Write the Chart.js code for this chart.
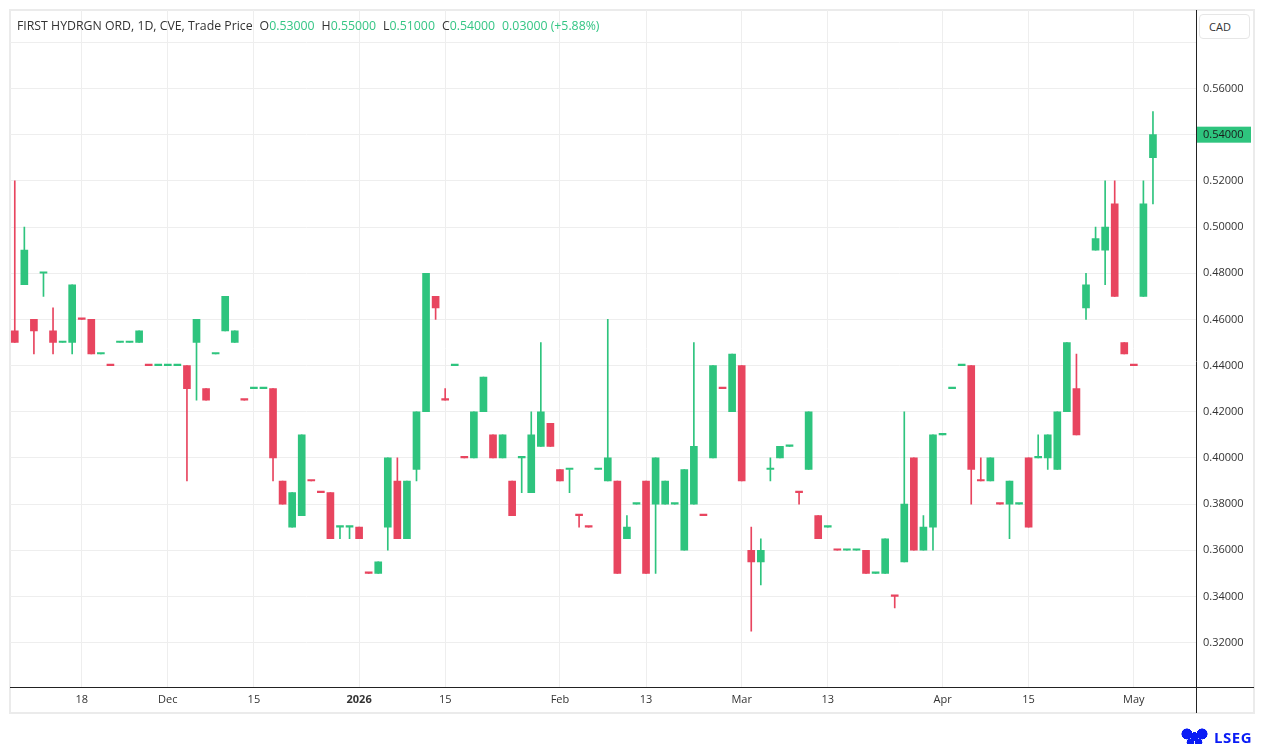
<!DOCTYPE html>
<html lang="en">
<head>
<meta charset="UTF-8">
<title>FIRST HYDRGN ORD - 1D</title>
<script src="https://cdn.jsdelivr.net/npm/chart.js"></script>
<style>
    html, body { margin: 0; padding: 0; background: #fff; }
    #wrap { position: relative; width: 1264px; height: 744px; font-family: 'Open Sans', sans-serif; color: #333; }
    #chart { position: absolute; left: 0; top: 0; }
    /* header line over the plot */
    #header { position: absolute; left: 17px; top: 18px; font-size: 12.3px; line-height: 16px; white-space: nowrap; }
    #header .v { color: #34c584; }
    #header .g { margin-left: 7px; }
    #cad { position: absolute; left: 1199px; top: 14px; width: 51px; height: 25px; box-sizing: border-box;
           border: 1px solid #e6e6e6; border-radius: 4px; background: #fff;
           font-size: 11px; line-height: 23px; padding-left: 9px; }
    #logo { position: absolute; left: 1181px; top: 724px; height: 18px; white-space: nowrap; }
    #logo .icon { display: inline-block; width: 27px; height: 17px; vertical-align: middle;
                  background:
                      radial-gradient(circle at 22% 35%, #0a1cf5 22%, transparent 24%),
                      radial-gradient(circle at 78% 35%, #0a1cf5 22%, transparent 24%),
                      radial-gradient(circle at 50% 50%, #0a1cf5 26%, transparent 28%),
                      radial-gradient(circle at 35% 85%, #0a1cf5 16%, transparent 18%),
                      radial-gradient(circle at 65% 85%, #0a1cf5 16%, transparent 18%); }
    #logo .txt { display: inline-block; vertical-align: middle; margin-left: 6px; color: #0a1cf5;
                 font-family: 'Open Sans', sans-serif; font-weight: 700; font-size: 15px; letter-spacing: 0.5px; }
</style>
</head>
<body>
<div id="wrap">
    <canvas id="chart" width="1264" height="744"></canvas>
    <div id="header">FIRST HYDRGN ORD, 1D, CVE, Trade Price<span class="g">O<span class="v">0.53000</span></span><span class="g">H<span class="v">0.55000</span></span><span class="g">L<span class="v">0.51000</span></span><span class="g">C<span class="v">0.54000</span></span><span class="g v">0.03000 (+5.88%)</span></div>
    <div id="cad">CAD</div>
    <div id="logo"><span class="icon"></span><span class="txt">LSEG</span></div>
</div>

<script>
    // daily candles, 7 Nov 2025 .. 4 May 2026
    const open = [
        0.455, 0.475, 0.46, 0.48, 0.455, 0.45, 0.45, 0.46, 0.46, 0.445,
        0.44, 0.45, 0.45, 0.45, 0.44, 0.44, 0.44, 0.44, 0.44, 0.45,
        0.43, 0.445, 0.455, 0.45, 0.425, 0.43, 0.43, 0.43, 0.39, 0.37,
        0.375, 0.39, 0.385, 0.385, 0.37, 0.37, 0.37, 0.35, 0.35, 0.37,
        0.39, 0.365, 0.395, 0.42, 0.47, 0.425, 0.44, 0.40, 0.40, 0.42,
        0.41, 0.40, 0.39, 0.40, 0.385, 0.405, 0.415, 0.395, 0.395, 0.375,
        0.37, 0.395, 0.39, 0.39, 0.365, 0.38, 0.39, 0.38, 0.38, 0.38,
        0.36, 0.38, 0.375, 0.40, 0.43, 0.42, 0.44, 0.36, 0.355, 0.395,
        0.40, 0.405, 0.385, 0.395, 0.375, 0.37, 0.36, 0.36, 0.36, 0.36,
        0.35, 0.35, 0.34, 0.355, 0.40, 0.36, 0.37, 0.41, 0.43, 0.44,
        0.44, 0.39, 0.39, 0.38, 0.38, 0.38, 0.40, 0.40, 0.40, 0.395,
        0.42, 0.43, 0.465, 0.49, 0.49, 0.51, 0.45, 0.44, 0.47, 0.53
    ];
    const high = [
        0.52, 0.50, 0.46, 0.48, 0.465, 0.45, 0.475, 0.46, 0.46, 0.445,
        0.44, 0.45, 0.45, 0.455, 0.44, 0.44, 0.44, 0.44, 0.44, 0.46,
        0.43, 0.445, 0.47, 0.455, 0.425, 0.43, 0.43, 0.43, 0.39, 0.385,
        0.41, 0.39, 0.385, 0.385, 0.37, 0.37, 0.37, 0.35, 0.355, 0.40,
        0.40, 0.39, 0.42, 0.48, 0.47, 0.43, 0.44, 0.40, 0.42, 0.435,
        0.41, 0.41, 0.39, 0.40, 0.42, 0.45, 0.415, 0.395, 0.395, 0.375,
        0.37, 0.395, 0.46, 0.39, 0.375, 0.38, 0.39, 0.40, 0.39, 0.38,
        0.395, 0.45, 0.375, 0.44, 0.43, 0.445, 0.44, 0.37, 0.365, 0.40,
        0.405, 0.405, 0.385, 0.42, 0.375, 0.37, 0.36, 0.36, 0.36, 0.36,
        0.35, 0.365, 0.34, 0.42, 0.40, 0.375, 0.41, 0.41, 0.43, 0.44,
        0.44, 0.40, 0.40, 0.38, 0.39, 0.38, 0.40, 0.41, 0.41, 0.42,
        0.45, 0.445, 0.48, 0.50, 0.52, 0.52, 0.45, 0.44, 0.52, 0.55
    ];
    const low = [
        0.45, 0.475, 0.445, 0.47, 0.445, 0.45, 0.445, 0.46, 0.445, 0.445,
        0.44, 0.45, 0.45, 0.45, 0.44, 0.44, 0.44, 0.44, 0.39, 0.425,
        0.425, 0.445, 0.455, 0.45, 0.425, 0.43, 0.43, 0.39, 0.38, 0.37,
        0.375, 0.39, 0.385, 0.365, 0.365, 0.365, 0.365, 0.35, 0.35, 0.36,
        0.365, 0.365, 0.39, 0.42, 0.46, 0.425, 0.44, 0.40, 0.40, 0.42,
        0.40, 0.40, 0.375, 0.385, 0.385, 0.405, 0.405, 0.39, 0.385, 0.37,
        0.37, 0.395, 0.39, 0.35, 0.365, 0.38, 0.35, 0.35, 0.38, 0.38,
        0.36, 0.38, 0.375, 0.40, 0.43, 0.42, 0.39, 0.325, 0.345, 0.39,
        0.40, 0.405, 0.38, 0.395, 0.365, 0.37, 0.36, 0.36, 0.36, 0.35,
        0.35, 0.35, 0.335, 0.355, 0.36, 0.36, 0.36, 0.41, 0.43, 0.44,
        0.38, 0.39, 0.39, 0.38, 0.365, 0.38, 0.37, 0.40, 0.395, 0.395,
        0.42, 0.41, 0.46, 0.49, 0.475, 0.47, 0.445, 0.44, 0.47, 0.51
    ];
    const close = [
        0.45, 0.49, 0.455, 0.48, 0.45, 0.45, 0.475, 0.46, 0.445, 0.445,
        0.44, 0.45, 0.45, 0.455, 0.44, 0.44, 0.44, 0.44, 0.43, 0.46,
        0.425, 0.445, 0.47, 0.455, 0.425, 0.43, 0.43, 0.40, 0.38, 0.385,
        0.41, 0.39, 0.385, 0.365, 0.37, 0.37, 0.365, 0.35, 0.355, 0.40,
        0.365, 0.39, 0.42, 0.48, 0.465, 0.425, 0.44, 0.40, 0.42, 0.435,
        0.40, 0.41, 0.375, 0.40, 0.41, 0.42, 0.405, 0.39, 0.395, 0.375,
        0.37, 0.395, 0.40, 0.35, 0.37, 0.38, 0.35, 0.40, 0.39, 0.38,
        0.395, 0.405, 0.375, 0.44, 0.43, 0.445, 0.39, 0.355, 0.36, 0.395,
        0.405, 0.405, 0.385, 0.42, 0.365, 0.37, 0.36, 0.36, 0.36, 0.35,
        0.35, 0.365, 0.34, 0.38, 0.36, 0.37, 0.41, 0.41, 0.43, 0.44,
        0.395, 0.39, 0.40, 0.38, 0.39, 0.38, 0.37, 0.40, 0.41, 0.42,
        0.45, 0.41, 0.475, 0.495, 0.50, 0.47, 0.445, 0.44, 0.51, 0.54
    ];
    // 1 = green candle, 0 = red candle (flat days too)
    const up = [
        0, 1, 0, 1, 0, 1, 1, 0, 0, 1,
        0, 1, 1, 1, 0, 1, 1, 1, 0, 1,
        0, 1, 1, 1, 0, 1, 1, 0, 0, 1,
        1, 0, 0, 0, 1, 1, 0, 0, 1, 1,
        0, 1, 1, 1, 0, 0, 1, 0, 1, 1,
        0, 1, 0, 1, 1, 1, 0, 0, 1, 0,
        0, 1, 1, 0, 1, 1, 0, 1, 1, 1,
        1, 1, 0, 1, 0, 1, 0, 0, 1, 1,
        1, 1, 0, 1, 0, 1, 0, 1, 1, 0,
        1, 1, 0, 1, 0, 1, 1, 1, 1, 1,
        0, 0, 1, 0, 1, 1, 0, 1, 1, 1,
        1, 0, 1, 1, 1, 0, 0, 0, 1, 1
    ];

    // x axis: candle slots (4 empty ones on the right) and the dated ticks
    const slotCount = 124;
    const tickIndex = [7, 16, 25, 36, 45, 57, 66, 76, 85, 97, 106, 117];
    const tickText = ['18', 'Dec', '15', '2026', '15', 'Feb', '13', 'Mar', '13', 'Apr', '15', 'May'];
    // y axis
    const yTicks = [0.32, 0.34, 0.36, 0.38, 0.40, 0.42, 0.44, 0.46, 0.48, 0.50, 0.52, 0.54, 0.56, 0.58];
    const yMin = 0.301;
    const yMax = 0.594;
    const lastPrice = 0.54;

    const GREEN = '#2ec47e';
    const RED = '#e8455f';
    const GRID = '#eeeeee';

    const xLabels = [];
    for (let i = 0; i < slotCount; i++) {
        const k = tickIndex.indexOf(i);
        xLabels.push(k >= 0 ? tickText[k] : '');
    }
    const colors = up.map(u => u ? GREEN : RED);
    const bodies = open.map((o, i) => [o, close[i]]);
    const wicks = low.map((l, i) => [l, high[i]]);

    // frame, axis lines and last price tag
    const decor = {
        id: 'decor',
        beforeDraw(chart) {
            const c = chart.ctx;
            c.save();
            c.strokeStyle = '#ebebeb';
            c.lineWidth = 2;
            c.strokeRect(10, 10, 1244, 703);
            c.restore();
        },
        afterDraw(chart) {
            const c = chart.ctx;
            const area = chart.chartArea;
            const y = chart.scales.y;
            c.save();
            c.strokeStyle = '#222';
            c.lineWidth = 1;
            c.beginPath();
            c.moveTo(Math.round(area.right) + 0.5, 10);
            c.lineTo(Math.round(area.right) + 0.5, 713);
            c.moveTo(10, Math.round(area.bottom) + 0.5);
            c.lineTo(1254, Math.round(area.bottom) + 0.5);
            c.stroke();

            const py = y.getPixelForValue(lastPrice);
            c.fillStyle = GREEN;
            c.fillRect(area.right + 1, py - 8, 54, 16);
            c.fillStyle = '#1a1a1a';
            c.font = "11px 'Open Sans'";
            c.textBaseline = 'middle';
            c.fillText(lastPrice.toFixed(5), area.right + 7, py);
            c.restore();
        }
    };

    new Chart(document.getElementById('chart'), {
        type: 'bar',
        data: {
            labels: xLabels,
            datasets: [
                {
                    label: 'body',
                    data: bodies,
                    backgroundColor: colors,
                    barThickness: 7,
                    minBarLength: 1.5,
                    grouped: false,
                    order: 0
                },
                {
                    label: 'wick',
                    data: wicks,
                    backgroundColor: colors,
                    barThickness: 1,
                    grouped: false,
                    order: 1
                }
            ]
        },
        options: {
            responsive: false,
            animation: false,
            events: [],
            layout: { padding: { left: 10, top: 10, right: 0, bottom: 0 } },
            plugins: {
                legend: { display: false },
                tooltip: { enabled: false }
            },
            scales: {
                x: {
                    type: 'category',
                    offset: true,
                    grid: { color: GRID, offset: false, drawTicks: false },
                    border: { display: false },
                    afterBuildTicks: s => { s.ticks = tickIndex.map(v => ({ value: v })); },
                    afterFit: s => { s.height = 57.5; s.paddingLeft = 0; s.paddingRight = 0; },
                    ticks: {
                        autoSkip: false,
                        maxRotation: 0,
                        padding: 7,
                        color: '#333',
                        font: ctx => ({
                            family: 'Open Sans',
                            size: 11,
                            weight: ctx.tick && ctx.tick.label === '2026' ? 'bold' : 'normal'
                        })
                    }
                },
                y: {
                    position: 'right',
                    min: yMin,
                    max: yMax,
                    grid: { color: GRID, drawTicks: false },
                    border: { display: false },
                    afterBuildTicks: s => { s.ticks = yTicks.map(v => ({ value: v })); },
                    afterFit: s => { s.width = 68; s.paddingTop = 0; s.paddingBottom = 0; },
                    ticks: {
                        padding: 7,
                        color: '#333',
                        font: { family: 'Open Sans', size: 11 },
                        callback: v => v > 0.57 ? '' : v.toFixed(5)
                    }
                }
            }
        },
        plugins: [decor]
    });
</script>
</body>
</html>
